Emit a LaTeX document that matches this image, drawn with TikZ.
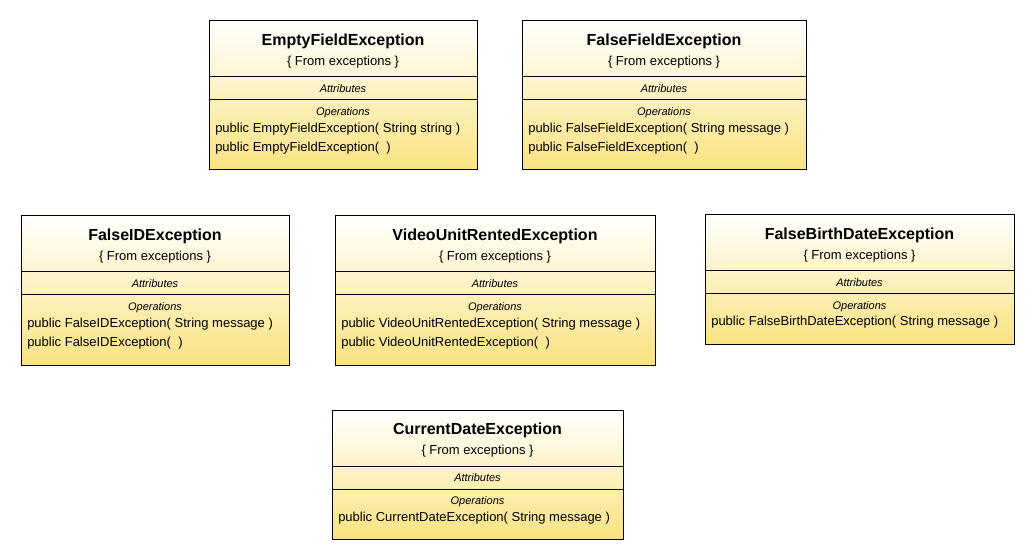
\documentclass[tikz,border=0pt]{standalone}
\usepackage{fontspec}
\setmainfont{Liberation Sans}
\usepackage{tikz}
\usetikzlibrary{calc}
\definecolor{umlyellow}{RGB}{249,227,128}

\begin{document}
\begin{tikzpicture}[x=0.75pt, y=-0.75pt,
        classname/.style={font=\fontsize{12}{14}\selectfont\bfseries, inner sep=0pt},
        fromtext/.style={font=\fontsize{9.75}{12}\selectfont, inner sep=0pt},
        sectiontext/.style={font=\fontsize{8.25}{10}\selectfont\itshape, inner sep=0pt},
        optext/.style={font=\fontsize{9.75}{12}\selectfont, inner sep=0pt, anchor=west}]
        \useasboundingbox (0,0) rectangle (1034,559);
        
        % class boxes: name/left/top/right/bottom/title
        \foreach \n/\l/\t/\r/\b/\title in {
                ef/209/21/477/170/EmptyFieldException,
                ff/522/21/806/170/FalseFieldException,
                fid/21/216/289/365/FalseIDException,
                vur/335/216/655/365/VideoUnitRentedException,
                fbd/705/215/1014/344/FalseBirthDateException,
                cd/332/410/623/539/CurrentDateException} {
            \coordinate (\n-nw) at (\l,\t);
            \coordinate (\n-se) at (\r,\b);
            \shade[top color=white, bottom color=umlyellow] (\n-nw) rectangle (\n-se);
            \draw[black, line width=0.75pt] (\n-nw) rectangle (\n-se);
            \draw[black, line width=0.75pt] (\l,\t+56) -- (\r,\t+56);
            \draw[black, line width=0.75pt] (\l,\t+79) -- (\r,\t+79);
            \node[classname] (\n-title) at ({(\l+\r)/2},\t+20) {\title};
            \node[fromtext] (\n-from) at ({(\l+\r)/2},\t+41) {\{ From exceptions \}};
            \node[sectiontext] (\n-attr) at ({(\l+\r)/2},\t+68) {Attributes};
            \node[sectiontext] (\n-ops) at ({(\l+\r)/2},\t+92) {Operations};
        }
        
        % operations
        \node[optext] (ef-op1) at (215,129) {public EmptyFieldException( String string )};
        \node[optext] (ef-op2) at (215,148) {public EmptyFieldException(\ \ )};
        
        \node[optext] (ff-op1) at (528,129) {public FalseFieldException( String message )};
        \node[optext] (ff-op2) at (528,148) {public FalseFieldException(\ \ )};
        
        \node[optext] (fid-op1) at (27,324) {public FalseIDException( String message )};
        \node[optext] (fid-op2) at (27,343) {public FalseIDException(\ \ )};
        
        \node[optext] (vur-op1) at (341,324) {public VideoUnitRentedException( String message )};
        \node[optext] (vur-op2) at (341,343) {public VideoUnitRentedException(\ \ )};
        
        \node[optext] (fbd-op1) at (711,322) {public FalseBirthDateException( String message )};
        
        \node[optext] (cd-op1) at (338,518) {public CurrentDateException( String message )};
        
\end{tikzpicture}
\end{document}
